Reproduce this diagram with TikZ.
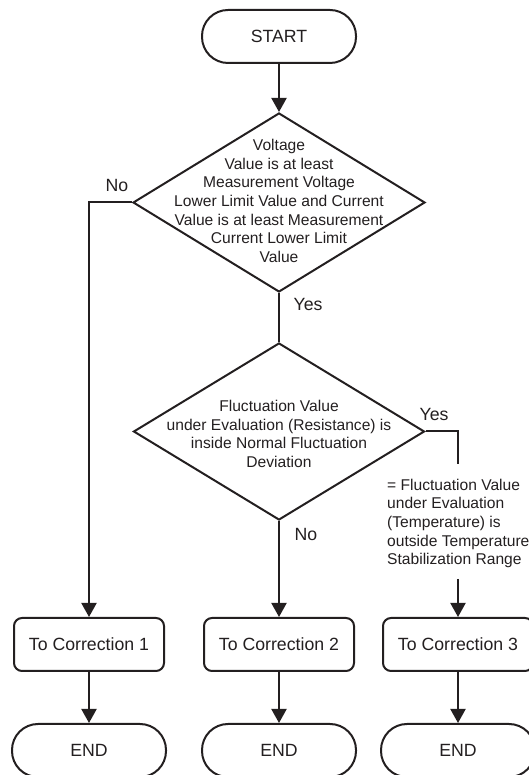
\documentclass[tikz,border=0pt]{standalone}
\usepackage{fontspec}
\setmainfont{Liberation Sans}
\usetikzlibrary{shapes.geometric,arrows.meta}
\definecolor{ink}{RGB}{35,31,32}
\begin{document}
\begin{tikzpicture}[x=1pt,y=1pt,
  every node/.style={text=ink},
  line/.style={draw=ink,line width=2pt},
  arr/.style={line,-{Triangle[width=15pt,length=14pt]}},
  term/.style={draw=ink,line width=2pt,rectangle,rounded corners=26pt,minimum width=154pt,minimum height=53pt,inner sep=0pt,font=\fontsize{17.7}{21}\selectfont},
  proc/.style={draw=ink,line width=2pt,rectangle,rounded corners=8pt,minimum width=150pt,minimum height=53pt,inner sep=0pt,font=\fontsize{17.7}{21}\selectfont},
  dec/.style={draw=ink,line width=2pt,diamond,inner sep=0pt},
  dtext/.style={align=center,inner sep=0pt,font=\fontsize{15.6}{18.7}\selectfont},
  lbl/.style={inner sep=0pt,font=\fontsize{17.7}{21}\selectfont}
]
\useasboundingbox (0,0) rectangle (528,775);
% start
\node[term] (start) at (279,738.5) {START};
% decision 1
\node[dec,minimum width=292pt,minimum height=179pt] (d1) at (279,572.5) {};
\node[dtext] (t1) at (279,574) {Voltage\\Value is at least\\Measurement Voltage\\Lower Limit Value and Current\\Value is at least Measurement\\Current Lower Limit\\Value};
% decision 2
\node[dec,minimum width=291pt,minimum height=177pt] (d2) at (279,343.5) {};
\node[dtext] (t2) at (279,341) {Fluctuation Value\\under Evaluation (Resistance) is\\inside Normal Fluctuation\\Deviation};
% side text
\node[dtext,align=left,anchor=west] (side) at (387,251.5) {= Fluctuation Value\\under Evaluation\\(Temperature) is\\outside Temperature\\Stabilization Range};
% process boxes
\node[proc] (c1) at (89,130.5) {To Correction 1};
\node[proc] (c2) at (279,130.5) {To Correction 2};
\node[proc] (c3) at (458,130.5) {To Correction 3};
% ends
\node[term] (e1) at (89,749.5-725) {END};
\node[term] (e2) at (279,749.5-725) {END};
\node[term] (e3) at (458,749.5-725) {END};
% labels
\node[lbl] (no1) at (117,589) {No};
\node[lbl] (yes1) at (308,470) {Yes};
\node[lbl] (yes2) at (434,360) {Yes};
\node[lbl] (no2) at (306,240) {No};
% coordinates
\coordinate (k1) at (89,572.5);
\coordinate (k2) at (458,343.5);
\coordinate (k2e) at (458,311);
\coordinate (k3) at (458,196);
% connectors
\draw[arr] (start.south) -- (d1.north);
\draw[line] (d1.south) -- (d2.north);
\draw[arr] (d1.west) -- (k1) -- (c1.north);
\draw[arr] (d2.south) -- (c2.north);
\draw[line] (d2.east) -- (k2) -- (k2e);
\draw[arr] (k3) -- (c3.north);
\draw[arr] (c1.south) -- (e1.north);
\draw[arr] (c2.south) -- (e2.north);
\draw[arr] (c3.south) -- (e3.north);
\end{tikzpicture}
\end{document}
